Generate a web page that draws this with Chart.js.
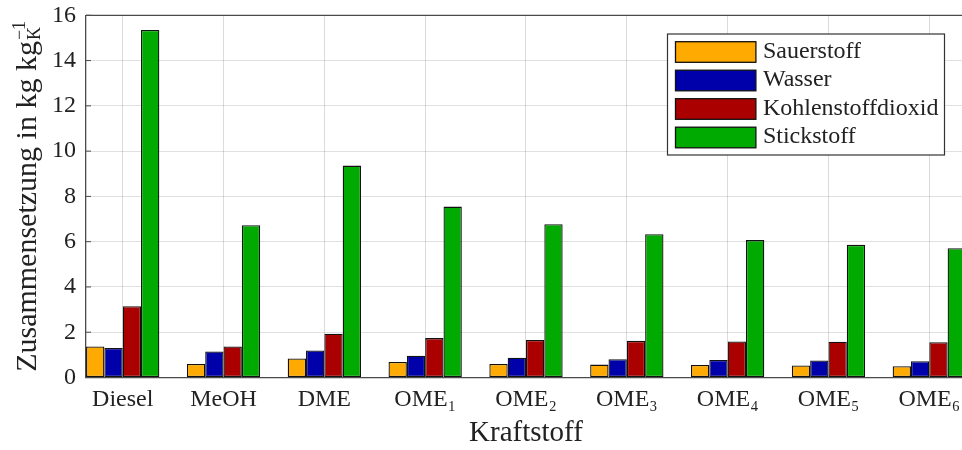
<!DOCTYPE html>
<html>
<head>
<meta charset="utf-8">
<script src="https://cdn.jsdelivr.net/npm/chart.js@4.4.1/dist/chart.umd.min.js"></script>
<style>
  html, body { margin: 0; padding: 0; overflow: hidden; background: #fff; }
  #wrap { width: 970px; height: 450px; }
</style>
</head>
<body>
<div id="wrap"><canvas id="c" width="970" height="450"></canvas></div>
<script>
// Fuels on the x axis
const fuels = ['Diesel', 'MeOH', 'DME', 'OME₁', 'OME₂', 'OME₃', 'OME₄', 'OME₅', 'OME₆'];
// Exhaust composition per kg fuel (kg / kg_K)
const seriesNames = ['Sauerstoff', 'Wasser', 'Kohlenstoffdioxid', 'Stickstoff'];
const sauerstoff = [1.37, 0.60, 0.84, 0.69, 0.60, 0.57, 0.55, 0.53, 0.50];
const wasser = [1.30, 1.15, 1.19, 0.96, 0.87, 0.81, 0.77, 0.75, 0.72];
const kohlenstoffdioxid = [3.15, 1.37, 1.93, 1.74, 1.66, 1.62, 1.59, 1.58, 1.56];
const stickstoff = [15.35, 6.73, 9.36, 7.55, 6.77, 6.33, 6.07, 5.86, 5.71];
const yTicks = [0, 2, 4, 6, 8, 10, 12, 14, 16];

const seriesValues = [sauerstoff, wasser, kohlenstoffdioxid, stickstoff];
const seriesColors = ['rgb(255,170,0)', 'rgb(0,0,170)', 'rgb(170,0,0)', 'rgb(0,170,0)'];

const SERIF = '"Liberation Serif", "DejaVu Serif", serif';
const TEXT = '#222';

// top/right frame lines and inward tick marks on the value axis
const frame = {
  id: 'frame',
  afterDraw(chart) {
    const { ctx, chartArea: a, scales: { y } } = chart;
    ctx.save();
    ctx.strokeStyle = '#4a4a4a';
    ctx.lineWidth = 1.3;
    ctx.beginPath();
    ctx.moveTo(a.left, a.top);
    ctx.lineTo(a.right, a.top);
    ctx.lineTo(a.right, a.bottom);
    ctx.stroke();
    ctx.lineWidth = 1;
    y.ticks.forEach(t => {
      const py = y.getPixelForValue(t.value);
      ctx.beginPath();
      ctx.moveTo(a.left, py);
      ctx.lineTo(a.left + 5, py);
      ctx.stroke();
    });
    ctx.restore();
  }
};

// boxed legend inside the plot, top right
const boxLegend = {
  id: 'boxLegend',
  afterDraw(chart) {
    const { ctx, chartArea: a } = chart;
    const ds = chart.data.datasets;
    const w = 277, h = 121;
    const x0 = a.right - 21.5 - w;
    const y0 = a.top + 18.7;
    ctx.save();
    ctx.fillStyle = '#fff';
    ctx.fillRect(x0, y0, w, h);
    ctx.strokeStyle = '#333';
    ctx.lineWidth = 1.2;
    ctx.strokeRect(x0, y0, w, h);
    ctx.font = '24px ' + SERIF;
    ctx.textBaseline = 'alphabetic';
    ctx.textAlign = 'left';
    ds.forEach((d, i) => {
      const py = y0 + 7.7 + i * 28.5;
      ctx.fillStyle = d.backgroundColor;
      ctx.fillRect(x0 + 8, py, 80.4, 20.6);
      ctx.strokeStyle = '#111';
      ctx.lineWidth = 1.3;
      ctx.strokeRect(x0 + 8, py, 80.4, 20.6);
      ctx.fillStyle = TEXT;
      ctx.fillText(d.label, x0 + 95.4, py + 10.3 + 5.7);
    });
    ctx.restore();
  }
};

// rotated value-axis title with sub- and superscript
const yTitle = {
  id: 'yTitle',
  afterDraw(chart) {
    const { ctx, chartArea: a } = chart;
    const main = 'Zusammensetzung in kg kg', sub = 'K', sup = '−1';
    const big = '30px ' + SERIF, small = '18px ' + SERIF;
    ctx.save();
    ctx.font = big;
    const wm = ctx.measureText(main).width;
    ctx.font = small;
    const ws = Math.max(ctx.measureText(sub).width, ctx.measureText(sup).width);
    const total = wm + 1 + ws;
    ctx.translate(36, (a.top + a.bottom) / 2);
    ctx.rotate(-Math.PI / 2);
    ctx.fillStyle = TEXT;
    ctx.textBaseline = 'alphabetic';
    ctx.textAlign = 'left';
    const x = -total / 2;
    ctx.font = big;
    ctx.fillText(main, x, 0);
    ctx.font = small;
    ctx.fillText(sub, x + wm + 1, 4);
    ctx.fillText(sup, x + wm + 1, -11);
    ctx.restore();
  }
};

new Chart(document.getElementById('c'), {
  type: 'bar',
  data: {
    datasets: seriesNames.map((name, s) => ({
      label: name,
      data: seriesValues[s].map((v, i) => ({ x: i, y: v })),
      backgroundColor: seriesColors[s],
      borderColor: '#111',
      borderWidth: 1.3,
      borderSkipped: false,
      categoryPercentage: 0.727,
      barPercentage: 1.0
    }))
  },
  options: {
    responsive: false,
    animation: false,
    layout: { padding: { top: 15.3, right: 4, bottom: 0, left: 0 } },
    plugins: {
      legend: { display: false },
      tooltip: { enabled: false }
    },
    scales: {
      x: {
        type: 'linear',
        offset: false,
        min: -0.364,
        max: fuels.length - 1 + 0.364,
        afterBuildTicks: (scale) => { scale.ticks = fuels.map((_, i) => ({ value: i })); },
        afterFit: (scale) => { scale.height = 72.5; scale.paddingLeft = 0; scale.paddingRight = 0; },
        ticks: {
          autoSkip: false,
          maxRotation: 0,
          padding: 7.5,
          color: TEXT,
          font: { family: SERIF, size: 24 },
          callback: (v) => fuels[v]
        },
        grid: { offset: false, color: 'rgba(0,0,0,0.14)', lineWidth: 1, drawTicks: false },
        border: { color: '#4a4a4a', width: 1.3 },
        title: {
          display: true,
          text: 'Kraftstoff',
          color: TEXT,
          font: { family: SERIF, size: 29, lineHeight: 1.15 },
          padding: { top: 0, bottom: 0 }
        }
      },
      y: {
        min: 0,
        max: 16,
        afterBuildTicks: (scale) => { scale.ticks = yTicks.map(v => ({ value: v })); },
        afterFit: (scale) => { scale.width = 86; scale.paddingTop = 0; scale.paddingBottom = 0; },
        ticks: {
          padding: 10,
          color: TEXT,
          font: { family: SERIF, size: 24 }
        },
        grid: { color: 'rgba(0,0,0,0.12)', lineWidth: 1, drawTicks: false },
        border: { color: '#4a4a4a', width: 1.3 }
      }
    }
  },
  plugins: [frame, boxLegend, yTitle]
});
</script>
</body>
</html>
